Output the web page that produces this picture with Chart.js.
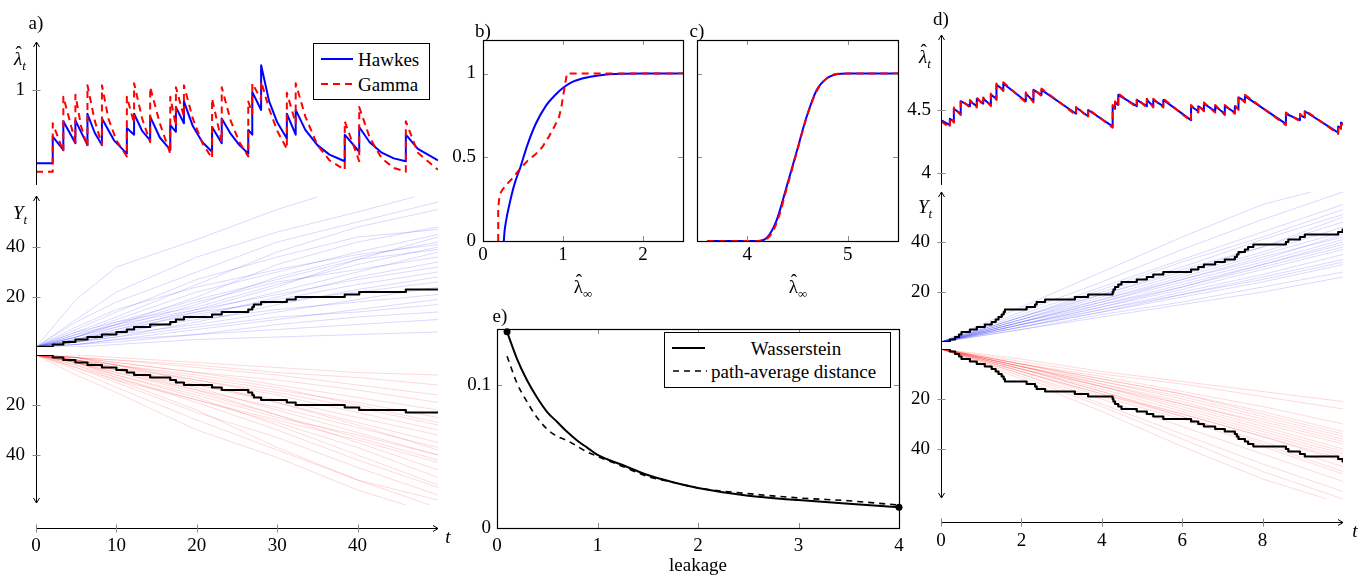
<!DOCTYPE html>
<html><head><meta charset="utf-8">
<script src="https://cdn.jsdelivr.net/npm/chart.js@4/dist/chart.umd.min.js"></script>
<style>
html,body{margin:0;padding:0;background:#fff;}
#wrap{position:relative;width:1364px;height:578px;overflow:hidden;font-family:"Liberation Serif","Times New Roman",serif;color:#000;}
#charts canvas{position:absolute;left:0;top:0;}
.c{position:absolute;transform:translate(-50%,-50%);white-space:nowrap;font-size:19px;line-height:1;}
.l{position:absolute;transform:translate(0,-50%);white-space:nowrap;font-size:19px;line-height:1;}
.box{position:absolute;border:1px solid #000;background:#fff;box-sizing:border-box;}
sub{font-size:13px;vertical-align:-5px;line-height:0;}
.hat{position:relative;display:inline-block;}
.hat::after{content:"ˆ";position:absolute;left:55%;top:-0.32em;transform:translateX(-50%);font-style:normal;}
svg{position:absolute;left:0;top:0;}
</style></head>
<body><div id="wrap"><div id="charts"></div>
<div class="c" style="left:36px;top:22px">a)</div>
<div class="c" style="left:483px;top:30px">b)</div>
<div class="c" style="left:697px;top:30px">c)</div>
<div class="c" style="left:941px;top:18px">d)</div>
<div class="c" style="left:500px;top:315px">e)</div>
<div class="c" style="left:20px;top:58px"><i class="hat">λ</i><sub><i>t</i></sub></div>
<div class="c" style="left:20px;top:212px"><i>Y</i><sub><i>t</i></sub></div>
<div class="c" style="left:925px;top:56px"><i class="hat">λ</i><sub><i>t</i></sub></div>
<div class="c" style="left:925px;top:206px"><i>Y</i><sub><i>t</i></sub></div>
<div class="c" style="left:448px;top:536px"><i>t</i></div>
<div class="c" style="left:1355px;top:530px"><i>t</i></div>
<div class="c" style="left:583px;top:286px"><span class="hat">λ</span><sub>∞</sub></div>
<div class="c" style="left:798px;top:286px"><span class="hat">λ</span><sub>∞</sub></div>
<div class="c" style="left:698px;top:564px">leakage</div>
<div class="box" style="left:313px;top:43px;width:117px;height:57px"></div>
<div class="l" style="left:358px;top:59px">Hawkes</div>
<div class="l" style="left:358px;top:84px">Gamma</div>
<div class="box" style="left:664px;top:332px;width:227px;height:56px"></div>
<div class="c" style="left:796px;top:348px">Wasserstein</div>
<div class="l" style="left:711px;top:371px">path-average distance</div>
<svg width="1364" height="578">
<line x1="321" y1="59" x2="353" y2="59" stroke="#0000ff" stroke-width="2"/>
<line x1="321" y1="84" x2="353" y2="84" stroke="#ff0000" stroke-width="2" stroke-dasharray="7 5"/>
<line x1="672" y1="348" x2="705" y2="348" stroke="#000" stroke-width="2"/>
<line x1="673" y1="371" x2="707" y2="371" stroke="#000" stroke-width="1.6" stroke-dasharray="6 5"/>
</svg>
</div>
<script>
// ================= DATA =================
// panel a) intensity paths [t, lambda]
const aHawkes = [[0,0.23],[2.08,0.23],[2.08,0.51],[3.4,0.37],[3.4,0.67],[4.9,0.44],[4.9,0.68],[6.4,0.42],[6.4,0.75],[7.3,0.55],[8.2,0.42],[8.2,0.70],[9.7,0.47],[11.3,0.33],[11.3,0.60],[12.2,0.53],[12.2,0.75],[13.2,0.57],[14.2,0.47],[14.2,0.72],[15.4,0.50],[16.7,0.37],[16.7,0.63],[17.4,0.56],[17.4,0.82],[18.4,0.65],[18.4,0.88],[19.5,0.62],[20.7,0.45],[21.9,0.35],[21.9,0.61],[23.1,0.44],[23.1,0.70],[24.2,0.54],[25.3,0.42],[26.4,0.33],[26.4,0.58],[26.9,0.53],[26.9,0.98],[28.0,0.79],[28.0,1.26],[29.0,0.88],[30.0,0.66],[31.2,0.49],[31.2,0.75],[32.3,0.53],[32.3,0.79],[33.5,0.58],[35.0,0.42],[36.5,0.32],[38.4,0.25],[38.4,0.53],[40.2,0.35],[40.2,0.61],[41.5,0.45],[43.0,0.34],[44.5,0.28],[46.0,0.25],[46.0,0.53],[47.5,0.38],[50,0.26]];
const aGamma = [[0,0.14],[2.08,0.14],[2.08,0.65],[3.4,0.35],[3.4,0.93],[4.9,0.45],[4.9,0.95],[5.6,0.62],[6.4,0.40],[6.4,1.05],[7.3,0.68],[8.2,0.42],[8.2,1.05],[9.0,0.70],[10.0,0.47],[11.3,0.30],[11.3,0.93],[12.2,0.65],[12.2,1.07],[13.2,0.70],[14.2,0.45],[14.2,1.03],[15.4,0.65],[16.7,0.33],[16.7,0.93],[17.4,0.62],[17.4,1.03],[18.4,0.72],[18.4,1.05],[19.5,0.70],[20.7,0.44],[21.9,0.28],[21.9,0.91],[23.1,0.45],[23.1,1.03],[24.2,0.68],[25.3,0.45],[26.4,0.30],[26.4,0.88],[26.9,0.75],[26.9,1.07],[28.0,0.90],[28.0,1.09],[29.0,0.80],[30.0,0.57],[31.2,0.38],[31.2,0.97],[32.3,0.65],[32.3,1.07],[33.5,0.72],[35.0,0.42],[36.5,0.26],[38.4,0.16],[38.4,0.67],[40.2,0.25],[40.2,0.82],[41.5,0.50],[43.0,0.28],[44.5,0.18],[46.0,0.14],[46.0,0.67],[47.5,0.34],[50,0.16]];
// panel a) highlighted counting path (event times and counts)
const aEventT = [2.08,3.4,4.9,6.4,8.2,10.0,11.3,12.2,14.2,16.7,17.4,18.4,21.9,23.1,26.4,26.9,27.1,28.0,31.2,32.3,38.4,40.2,46.0];
const aEventY = [1,2,3,4,5,6,7,8,9,10,11,12,13,14,15,16,17,18,19,20,21,22,23];
// panel a) sample paths (blue: Hawkes, red: Gamma) [t, Y]
const aBluePaths = [
[[0,0],[5,19],[10,32],[20,43],[30,55],[35,60]],
[[0,0],[5,11],[10,22],[20,36],[30,46],[40,54],[47,60]],
[[0,0],[5,10],[10,18],[20,30],[30,42],[40,50],[50,58]],
[[0,0],[5,6],[10,12],[20,25],[30,38],[40,48],[50,55]],
[[0,0],[5,4],[10,9],[20,20],[30,33],[40,42],[50,48]],
[[0,0],[5,5],[10,11],[20,22],[30,30],[40,38],[50,45]],
[[0,0],[5,3],[10,8],[20,17],[30,28],[40,36],[50,42]],
[[0,0],[5,6],[10,10],[20,16],[30,25],[40,33],[50,40]],
[[0,0],[5,3],[10,6],[20,14],[30,22],[40,30],[50,38]],
[[0,0],[5,4],[10,9],[20,18],[30,26],[40,31],[50,36]],
[[0,0],[5,2],[10,5],[20,12],[30,20],[40,28],[50,34]],
[[0,0],[5,5],[10,9],[20,15],[30,21],[40,27],[50,32]],
[[0,0],[5,3],[10,7],[20,13],[30,19],[40,25],[50,30]],
[[0,0],[5,2],[10,4],[20,10],[30,17],[40,23],[50,28]],
[[0,0],[5,4],[10,8],[20,14],[30,18],[40,22],[50,26]],
[[0,0],[5,2],[10,5],[20,9],[30,14],[40,19],[50,24]],
[[0,0],[5,3],[10,6],[20,11],[30,15],[40,18],[50,21]],
[[0,0],[5,1],[10,3],[20,7],[30,11],[40,15],[50,19]],
[[0,0],[5,2],[10,4],[20,8],[30,12],[40,14],[50,17]],
[[0,0],[5,1],[10,2],[20,5],[30,9],[40,12],[50,14]],
[[0,0],[5,1],[10,3],[20,5],[30,7],[40,9],[50,11]],
[[0,0],[5,0],[10,1],[20,3],[30,4],[40,5],[50,6]],
[[0,0],[5,7],[10,14],[20,27],[30,36],[40,44],[50,47]],
[[0,0],[5,2],[10,7],[20,15],[30,24],[40,35],[50,44]],
[[0,0],[5,4],[10,10],[20,19],[30,27],[40,35],[50,39]],
[[0,0],[5,8],[10,15],[20,24],[30,31],[40,37],[50,41]]
];
const aRedPaths = [
[[0,0],[5,8],[10,15],[20,30],[30,41],[40,54],[46,60]],
[[0,0],[5,5],[10,11],[20,23],[30,33],[40,45],[50,56]],
[[0,0],[5,6],[10,13],[20,26],[30,38],[40,50],[50,58]],
[[0,0],[5,3],[10,8],[20,17],[30,28],[40,40],[50,52]],
[[0,0],[5,4],[10,9],[20,18],[30,27],[40,37],[50,49]],
[[0,0],[5,3],[10,7],[20,15],[30,24],[40,35],[50,46]],
[[0,0],[5,5],[10,10],[20,18],[30,26],[40,34],[50,43]],
[[0,0],[5,2],[10,6],[20,13],[30,22],[40,31],[50,40]],
[[0,0],[5,3],[10,7],[20,14],[30,21],[40,29],[50,37]],
[[0,0],[5,2],[10,5],[20,12],[30,19],[40,27],[50,35]],
[[0,0],[5,3],[10,6],[20,12],[30,18],[40,25],[50,32]],
[[0,0],[5,1],[10,4],[20,10],[30,16],[40,23],[50,30]],
[[0,0],[5,2],[10,5],[20,10],[30,15],[40,21],[50,28]],
[[0,0],[5,2],[10,4],[20,9],[30,14],[40,19],[50,25]],
[[0,0],[5,1],[10,3],[20,7],[30,12],[40,17],[50,22]],
[[0,0],[5,1],[10,3],[20,7],[30,10],[40,14],[50,19]],
[[0,0],[5,1],[10,2],[20,5],[30,8],[40,12],[50,16]],
[[0,0],[5,1],[10,2],[20,4],[30,7],[40,9],[50,12]],
[[0,0],[5,0],[10,1],[20,3],[30,5],[40,7],[50,8]],
[[0,0],[5,4],[10,10],[20,22],[30,37],[40,50],[49,60]],
[[0,0],[5,3],[10,9],[20,19],[30,30],[40,42],[50,53]],
[[0,0],[5,2],[10,6],[20,14],[30,24],[40,33],[50,42]],
[[0,0],[5,2],[10,4],[20,11],[30,19],[40,28],[50,38]],
[[0,0],[5,1],[10,4],[20,8],[30,13],[40,20],[50,27]],
[[0,0],[5,3],[10,8],[20,16],[30,25],[40,32],[50,40]]
];
const aLamTicks = [1];
const aYTicks = [20,40];
const aTTicks = [0,10,20,30,40];

// panel b) CDFs [lambda_inf, F]
const bHawkes = [[0.26,0],[0.27,0.06],[0.29,0.125],[0.35,0.26],[0.40,0.35],[0.46,0.43],[0.56,0.58],[0.66,0.70],[0.79,0.81],[0.90,0.87],[0.99,0.91],[1.10,0.945],[1.24,0.97],[1.40,0.985],[1.57,0.995],[2.0,1.0],[2.5,1.0]];
const bGamma = [[0.19,0],[0.19,0.2],[0.21,0.28],[0.25,0.31],[0.30,0.34],[0.38,0.38],[0.46,0.43],[0.56,0.48],[0.66,0.52],[0.74,0.56],[0.82,0.62],[0.90,0.69],[0.95,0.74],[0.98,0.80],[1.01,0.89],[1.05,1.0],[2.5,1.0]];
const bXTicks = [0,1,2];
const bYTicks = [0,0.5,1];
// panel c) CDFs
const cHawkes = [[3.6,0],[4.1,0],[4.19,0.016],[4.29,0.12],[4.39,0.32],[4.49,0.53],[4.59,0.74],[4.69,0.90],[4.79,0.97],[4.89,0.995],[5.0,1],[5.5,1]];
const cGamma = [[3.6,0],[4.1,0],[4.2,0.015],[4.3,0.12],[4.4,0.33],[4.5,0.545],[4.6,0.755],[4.7,0.905],[4.8,0.975],[4.9,0.998],[5.0,1],[5.5,1]];
const cXTicks = [4,5];
const cYTicks = [0,0.5,1];

// panel d) intensity paths
const dHawkes = [[0,4.42],[0.22,4.38],[0.22,4.43],[0.32,4.41],[0.32,4.51],[0.49,4.47],[0.49,4.57],[0.72,4.53],[0.72,4.57],[0.89,4.53],[0.89,4.59],[1.05,4.55],[1.05,4.59],[1.24,4.54],[1.24,4.62],[1.38,4.59],[1.38,4.70],[1.55,4.66],[1.55,4.71],[2.11,4.57],[2.11,4.63],[2.30,4.57],[2.30,4.66],[2.50,4.62],[2.50,4.66],[3.36,4.47],[3.36,4.52],[3.66,4.45],[3.66,4.50],[4.27,4.37],[4.27,4.53],[4.33,4.51],[4.33,4.56],[4.41,4.54],[4.41,4.62],[4.87,4.53],[4.87,4.58],[5.12,4.53],[5.12,4.58],[5.28,4.53],[5.28,4.58],[5.53,4.53],[5.53,4.58],[6.22,4.42],[6.22,4.53],[6.40,4.49],[6.40,4.53],[6.54,4.50],[6.54,4.55],[6.82,4.49],[6.82,4.53],[7.06,4.47],[7.06,4.53],[7.31,4.48],[7.31,4.53],[7.40,4.51],[7.40,4.60],[7.56,4.57],[7.56,4.61],[8.58,4.39],[8.58,4.47],[8.93,4.42],[8.93,4.46],[9.05,4.44],[9.05,4.49],[9.88,4.32],[9.88,4.37],[9.95,4.36],[9.95,4.40],[10,4.39]];
const dGamma = [[0,4.41],[0.22,4.36],[0.22,4.44],[0.32,4.40],[0.32,4.52],[0.49,4.46],[0.49,4.58],[0.72,4.52],[0.72,4.58],[0.89,4.52],[0.89,4.60],[1.05,4.54],[1.05,4.60],[1.24,4.53],[1.24,4.63],[1.38,4.58],[1.38,4.71],[1.55,4.65],[1.55,4.72],[2.11,4.56],[2.11,4.64],[2.30,4.56],[2.30,4.67],[2.50,4.61],[2.50,4.67],[3.36,4.46],[3.36,4.53],[3.66,4.44],[3.66,4.51],[4.27,4.36],[4.27,4.54],[4.33,4.50],[4.33,4.57],[4.41,4.53],[4.41,4.63],[4.87,4.52],[4.87,4.59],[5.12,4.52],[5.12,4.59],[5.28,4.52],[5.28,4.59],[5.53,4.52],[5.53,4.59],[6.22,4.41],[6.22,4.54],[6.40,4.48],[6.40,4.54],[6.54,4.49],[6.54,4.56],[6.82,4.48],[6.82,4.54],[7.06,4.46],[7.06,4.54],[7.31,4.47],[7.31,4.54],[7.40,4.50],[7.40,4.61],[7.56,4.56],[7.56,4.62],[8.58,4.38],[8.58,4.48],[8.93,4.41],[8.93,4.47],[9.05,4.43],[9.05,4.50],[9.88,4.31],[9.88,4.38],[9.95,4.35],[9.95,4.41],[10,4.38]];
const dEventT = [0.22,0.35,0.45,0.51,0.72,0.89,1.09,1.26,1.36,1.43,1.51,1.56,1.59,2.13,2.34,2.38,2.59,3.33,3.66,4.27,4.29,4.33,4.41,4.49,4.87,5.12,5.28,5.53,6.22,6.40,6.54,6.82,7.06,7.31,7.36,7.40,7.56,7.64,7.77,8.58,8.64,8.93,9.05,9.88,9.99];
const dEventY = [1,2,3,4,5,6,7,8,9,10,11,12,13,14,15,16,17,18,19,20,21,22,23,24,25,26,27,28,29,30,31,32,33,34,35,36,37,38,39,40,41,42,43,44,45];
const dBluePaths = [
[[0,0],[2,14],[4,28],[6,42],[8,55],[9.2,60]],
[[0,0],[2,12],[4,24],[6,37],[8,49],[10,60]],
[[0,0],[2,11],[4,22],[6,33],[8,44],[10,55]],
[[0,0],[2,10],[4,20],[6,30],[8,41],[10,51]],
[[0,0],[2,10],[4,19],[6,29],[8,38],[10,48]],
[[0,0],[2,9],[4,18],[6,27],[8,36],[10,46]],
[[0,0],[2,8],[4,17],[6,26],[8,35],[10,44]],
[[0,0],[2,9],[4,17],[6,25],[8,34],[10,42]],
[[0,0],[2,8],[4,16],[6,24],[8,32],[10,41]],
[[0,0],[2,7],[4,15],[6,23],[8,31],[10,40]],
[[0,0],[2,8],[4,15],[6,22],[8,30],[10,38]],
[[0,0],[2,7],[4,14],[6,21],[8,29],[10,37]],
[[0,0],[2,6],[4,13],[6,20],[8,27],[10,35]],
[[0,0],[2,7],[4,13],[6,19],[8,26],[10,33]],
[[0,0],[2,6],[4,12],[6,18],[8,24],[10,31]],
[[0,0],[2,5],[4,11],[6,16],[8,22],[10,28]],
[[0,0],[2,5],[4,10],[6,15],[8,20],[10,26]],
[[0,0],[2,9],[4,19],[6,28],[8,38],[10,50]],
[[0,0],[2,8],[4,16],[6,25],[8,33],[10,43]],
[[0,0],[2,7],[4,14],[6,22],[8,31],[10,39]],
[[0,0],[2,6],[4,12],[6,19],[8,25],[10,32]],
[[0,0],[2,10],[4,21],[6,32],[8,42],[10,53]]
];
const dRedPaths = [
[[0,0],[2,12],[4,25],[6,39],[8,52],[9.6,60]],
[[0,0],[2,10],[4,22],[6,34],[8,46],[10,57]],
[[0,0],[2,10],[4,20],[6,31],[8,42],[10,53]],
[[0,0],[2,9],[4,19],[6,28],[8,39],[10,50]],
[[0,0],[2,9],[4,18],[6,27],[8,37],[10,47]],
[[0,0],[2,8],[4,17],[6,26],[8,35],[10,45]],
[[0,0],[2,8],[4,16],[6,25],[8,34],[10,43]],
[[0,0],[2,8],[4,15],[6,23],[8,32],[10,41]],
[[0,0],[2,7],[4,15],[6,22],[8,31],[10,40]],
[[0,0],[2,7],[4,14],[6,21],[8,30],[10,38]],
[[0,0],[2,7],[4,13],[6,20],[8,28],[10,36]],
[[0,0],[2,6],[4,13],[6,19],[8,27],[10,35]],
[[0,0],[2,6],[4,12],[6,18],[8,25],[10,33]],
[[0,0],[2,6],[4,11],[6,17],[8,23],[10,30]],
[[0,0],[2,5],[4,10],[6,14],[8,19],[10,24]],
[[0,0],[2,4],[4,9],[6,13],[8,17],[10,21]],
[[0,0],[2,8],[4,17],[6,27],[8,38],[10,49]],
[[0,0],[2,7],[4,15],[6,24],[8,33],[10,42]],
[[0,0],[2,7],[4,14],[6,22],[8,29],[10,37]],
[[0,0],[2,11],[4,23],[6,36],[8,49],[10,60]],
[[0,0],[2,9],[4,18],[6,26],[8,35],[10,44]],
[[0,0],[2,6],[4,12],[6,18],[8,26],[10,34]]
];
const dLamTicks = [4,4.5];
const dYTicks = [20,40];
const dTTicks = [0,2,4,6,8];

// panel e) distances vs leakage
const eLeak = [0.1,0.2,0.3,0.4,0.5,0.6,0.7,0.8,0.9,1.0,1.25,1.5,1.75,2.0,2.5,3.0,3.5,4.0];
const eWass = [0.137,0.118,0.103,0.091,0.081,0.074,0.067,0.061,0.056,0.051,0.044,0.037,0.032,0.028,0.0225,0.0195,0.017,0.0145];
const ePath = [0.120,0.101,0.088,0.077,0.069,0.064,0.061,0.057,0.053,0.050,0.043,0.036,0.032,0.028,0.024,0.021,0.019,0.016];
const eMarkX = [0.1,4.0];
const eMarkY = [0.137,0.0145];
const eXTicks = [0,1,2,3,4];
const eYTicks = [0,0.1];

// ================= RENDER =================
const W=1364,H=578;
const FONT='"Liberation Serif","Times New Roman",serif', FS=19;
const BLUE='#0000ff', RED='#ff0000';
const FAINT_B='rgba(0,0,255,0.15)', FAINT_R='rgba(255,0,0,0.15)', TICKC='#8a8a8a';

function lin(min,max,ticks,o){ o=o||{}; return {type:'linear',min,max,reverse:!!o.reverse,
  afterBuildTicks:s=>{s.ticks=ticks.map(v=>({value:v}));},
  grid:{display:false,drawTicks:false,tickLength:0},border:{display:false},
  ticks:{display:!!o.labels,padding:o.pad||0,color:'#000',font:{family:FONT,size:FS},autoSkip:false,maxRotation:0,minRotation:0,callback:v=>String(v)}}; }
const P=pts=>pts.map(p=>({x:p[0],y:p[1]}));
function ds(pts,color,w,dash,extra){ return Object.assign({data:P(pts),borderColor:color,borderWidth:w,borderDash:dash||[],pointRadius:0,fill:false,tension:0,borderJoinStyle:'round',borderCapStyle:'butt'},extra||{}); }
function stepPts(T,Y,tEnd){ const pts=[[0,0]]; T.forEach((t,i)=>pts.push([t,Y[i]])); pts.push([tEnd,Y[Y.length-1]]); return pts; }
function seg(ctx,x1,y1,x2,y2,col,w){ctx.beginPath();ctx.moveTo(x1,y1);ctx.lineTo(x2,y2);ctx.strokeStyle=col;ctx.lineWidth=w;ctx.stroke();}
function arrow(ctx,x,y,dx,dy){ const L=5,Wd=3,px=-dy,py=dx; ctx.beginPath(); ctx.moveTo(x-dx*L+px*Wd,y-dy*L+py*Wd); ctx.lineTo(x,y); ctx.lineTo(x-dx*L-px*Wd,y-dy*L-py*Wd); ctx.strokeStyle='#000'; ctx.lineWidth=1; ctx.stroke(); }

function chart(area,datasets,xs,ys,decor){
  const c=document.createElement('canvas'); c.width=W; c.height=H; c.style.width=W+'px'; c.style.height=H+'px';
  document.getElementById('charts').appendChild(c);
  xs.afterFit=s=>{ s.height=H-area.b; s.paddingLeft=s.paddingRight=s.paddingTop=s.paddingBottom=0; };
  ys.afterFit=s=>{ s.width=area.l; s.paddingLeft=s.paddingRight=s.paddingTop=s.paddingBottom=0; };
  return new Chart(c,{type:'line',data:{datasets},options:{responsive:false,maintainAspectRatio:false,animation:false,devicePixelRatio:1,events:[],
    layout:{padding:{left:0,top:area.t,right:W-area.r,bottom:0}},
    plugins:{legend:{display:false},tooltip:{enabled:false}},
    scales:{x:xs,y:ys}},plugins:[{id:'decor',afterDraw:decor}]});
}
// decoration: arrow axes
function axisDecor(o){ return ch=>{ const {ctx,chartArea:ca,scales:{x,y}}=ch; ctx.save();
  const ax=Math.round(ca.left)+0.5;
  const yTop=ca.top+(o.topExt||0), yBot=(o.botVal!==undefined)? y.getPixelForValue(o.botVal): ca.bottom+(o.botExt||0);
  seg(ctx,ax,yTop,ax,yBot,'#000',1);
  if(o.arrowUp) arrow(ctx,ax,yTop,0,-1);
  if(o.arrowDown) arrow(ctx,ax,yBot,0,1);
  (o.yTicks||[]).forEach(v=>{const p=Math.round(y.getPixelForValue(v))+0.5; seg(ctx,ax-4,p,ax+4,p,TICKC,1);});
  if(o.tAxis){ const yb=Math.round(ca.bottom)+0.5; seg(ctx,ca.left,yb,ca.right,yb,'#000',1); arrow(ctx,ca.right,yb,1,0);
    o.tTicks.forEach(v=>{const p=Math.round(x.getPixelForValue(v))+0.5; seg(ctx,p,yb-4,p,yb+4,TICKC,1);}); }
  ctx.restore(); }; }
function boxDecor(xt,yt){ return ch=>{ const {ctx,chartArea:ca,scales:{x,y}}=ch; ctx.save();
  xt.forEach(v=>{const p=Math.round(x.getPixelForValue(v))+0.5; seg(ctx,p,ca.bottom,p,ca.bottom-5,TICKC,1); seg(ctx,p,ca.top,p,ca.top+5,TICKC,1);});
  yt.forEach(v=>{const p=Math.round(y.getPixelForValue(v))+0.5; seg(ctx,ca.left,p,ca.left+5,p,TICKC,1); seg(ctx,ca.right,p,ca.right-5,p,TICKC,1);});
  ctx.strokeStyle='#000'; ctx.lineWidth=1.2; ctx.strokeRect(Math.round(ca.left)+0.5,Math.round(ca.top)+0.5,Math.round(ca.right-ca.left),Math.round(ca.bottom-ca.top));
  ctx.restore(); }; }

// ---- a) ----
chart({l:36,r:438,t:42,b:185},
  [ds(aGamma,RED,2,[7,5]), ds(aHawkes,BLUE,2)],
  lin(0,50,[]), lin(0,1.505,aLamTicks,{labels:true,pad:11}),
  axisDecor({arrowUp:true,yTicks:aLamTicks}));
const aBlack=stepPts(aEventT,aEventY,50);
chart({l:36,r:438,t:196,b:347},
  [ds(aBlack,'#000',2.2,[],{stepped:'before'})].concat(aBluePaths.map(p=>ds(p,FAINT_B,1))),
  lin(0,50,[]), lin(0,60.4,aYTicks,{labels:true,pad:11}),
  axisDecor({arrowUp:true,botExt:5,yTicks:aYTicks}));
chart({l:36,r:438,t:355,b:528},
  [ds(aBlack,'#000',2.2,[],{stepped:'before'})].concat(aRedPaths.map(p=>ds(p,FAINT_R,1))),
  lin(0,50,aTTicks,{labels:true,pad:7}), lin(0,69.2,aYTicks,{labels:true,pad:11,reverse:true}),
  axisDecor({topExt:-5,botVal:59.2,arrowDown:true,yTicks:aYTicks,tAxis:true,tTicks:aTTicks}));

// ---- b) ----
chart({l:483,r:683,t:40,b:241},
  [ds(bGamma,RED,2,[7,5]), ds(bHawkes,BLUE,2,[],{cubicInterpolationMode:'monotone'})],
  lin(0,2.5,bXTicks,{labels:true,pad:3}), lin(0,1.2,bYTicks,{labels:true,pad:7}),
  boxDecor(bXTicks,bYTicks));
// ---- c) ----
chart({l:697,r:898,t:40,b:241},
  [ds(cGamma,RED,2,[7,5],{cubicInterpolationMode:'monotone'}), ds(cHawkes,BLUE,2,[],{cubicInterpolationMode:'monotone'})],
  lin(3.5,5.5,cXTicks,{labels:true,pad:3}), lin(0,1.2,cYTicks,{labels:false}),
  boxDecor(cXTicks,cYTicks));

// ---- d) ----
chart({l:941,r:1343,t:35,b:185},
  [ds(dGamma,RED,2,[7,5]), ds(dHawkes,BLUE,2)],
  lin(0,10,[]), lin(3.905,5.095,dLamTicks,{labels:true,pad:10}),
  axisDecor({arrowUp:true,yTicks:dLamTicks}));
const dBlack=stepPts(dEventT,dEventY,10);
chart({l:941,r:1343,t:192,b:342},
  [ds(dBlack,'#000',2.2,[],{stepped:'before'})].concat(dBluePaths.map(p=>ds(p,FAINT_B,1))),
  lin(0,10,[]), lin(0,60,dYTicks,{labels:true,pad:11}),
  axisDecor({arrowUp:true,botExt:4,yTicks:dYTicks}));
chart({l:941,r:1343,t:349,b:522},
  [ds(dBlack,'#000',2.2,[],{stepped:'before'})].concat(dRedPaths.map(p=>ds(p,FAINT_R,1))),
  lin(0,10,dTTicks,{labels:true,pad:8}), lin(0,69.2,dYTicks,{labels:true,pad:11,reverse:true}),
  axisDecor({topExt:-4,botVal:59.6,arrowDown:true,yTicks:dYTicks,tAxis:true,tTicks:dTTicks}));

// ---- e) ----
const eW=eLeak.map((x,i)=>[x,eWass[i]]), eP=eLeak.map((x,i)=>[x,ePath[i]]), eM=eMarkX.map((x,i)=>[x,eMarkY[i]]);
chart({l:497,r:899,t:329,b:528},
  [ds(eM,'#000',0,[],{showLine:false,pointRadius:3.5,pointBackgroundColor:'#000',pointBorderWidth:0,clip:false}),
   ds(eW,'#000',2,[],{cubicInterpolationMode:'monotone'}),
   ds(eP,'#000',1.6,[6,5],{cubicInterpolationMode:'monotone'})],
  lin(0,4,eXTicks,{labels:true,pad:7}), lin(0,0.139,eYTicks,{labels:true,pad:6}),
  boxDecor(eXTicks,eYTicks));
</script>
</body></html>
